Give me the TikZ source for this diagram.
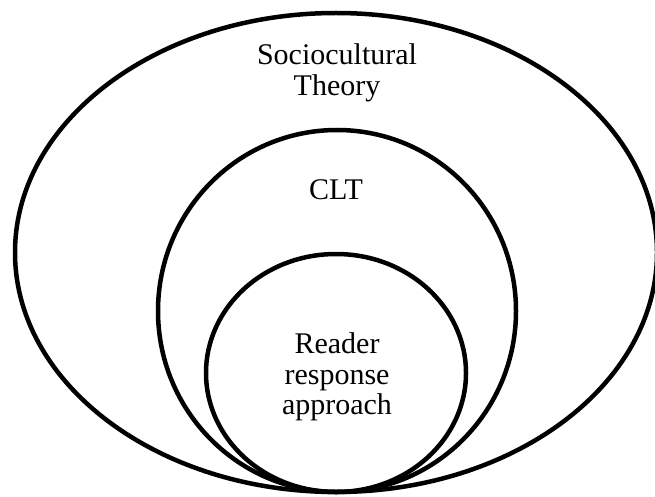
\documentclass[tikz,border=0pt]{standalone}
\usepackage{fontspec}
\setmainfont{Liberation Serif}
\usetikzlibrary{shapes.geometric}
\begin{document}
\begin{tikzpicture}[x=1pt,y=1pt]
      \useasboundingbox (0,0) rectangle (655,496);

      \begin{scope}[every node/.style={ellipse,draw,line width=4.5pt,inner sep=0pt}]
        \node[minimum width=642pt,minimum height=479pt] (outer)  at (336,243.5) {};
        \node[minimum width=358pt,minimum height=362pt] (middle) at (337,185)   {};
        \node[minimum width=260pt,minimum height=238pt] (inner)  at (336,123)   {};
      \end{scope}

      \begin{scope}[every node/.style={align=center,font=\fontsize{30}{30.5}\selectfont}]
        \node (sct) at (337,423) {Sociocultural\\Theory};
        \node (clt) at (336,306) {CLT};
        \node (rra) at (337,119) {Reader\\response\\approach};
      \end{scope}

    \end{tikzpicture}
\end{document}
